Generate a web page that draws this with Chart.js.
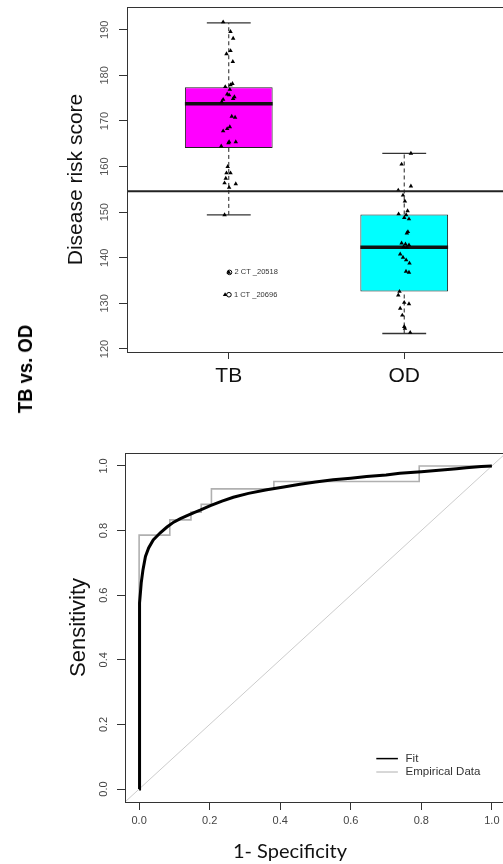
<!DOCTYPE html>
<html><head><meta charset="utf-8">
<script src="https://cdn.jsdelivr.net/npm/chart.js@4.4.1/dist/chart.umd.min.js"></script>
<style>
html,body{margin:0;padding:0;background:#fff;width:503px;height:864px;overflow:hidden;}
#wrap{position:relative;width:503px;height:864px;overflow:hidden;}
canvas{position:absolute;left:0;}
#c1{top:0;}
#c2{top:440px;}
.lbl{position:absolute;white-space:nowrap;color:#000;}
#side{font-family:"Liberation Sans",Arial,sans-serif;font-weight:bold;font-size:21px;left:24.5px;top:369px;transform:translate(-50%,-50%) rotate(-90deg) scaleX(0.88);}
#xt{font-family:Lato,"Open Sans",sans-serif;font-size:20px;left:290px;top:850px;transform:translate(-50%,-50%);color:#111;}
</style>
</head><body>
<div id="wrap">
<canvas id="c1" width="520" height="440"></canvas>
<canvas id="c2" width="520" height="424"></canvas>
<div class="lbl" id="side">TB vs. OD</div>
<div class="lbl" id="xt">1- Specificity</div>
</div>
<script>
// ---------- data: top panel (box plot) ----------
const categories = ['TB', 'OD'];
const tbScores = [191.7,189.6,188.1,185.4,184.7,183.0,178.2,177.9,177.5,176.9,175.9,175.7,175.3,174.9,174.7,174.2,171.0,170.8,168.7,168.3,167.8,165.4,165.2,165.4,164.5,160.0,158.6,158.6,157.4,156.4,156.2,155.4,149.4];
const tbJitter = [-0.032,0.010,0.025,0.010,-0.013,0.023,0.021,0.010,-0.020,0.006,-0.009,0.002,0.032,0.025,-0.032,-0.040,0.017,0.036,0.006,-0.009,-0.032,0.002,-0.002,0.040,-0.043,-0.006,-0.013,0.010,-0.017,-0.024,0.040,0.002,-0.024];
const odScores = [162.9,160.5,155.7,154.8,153.7,152.4,150.3,149.6,149.4,148.8,148.5,145.7,145.4,143.2,143.0,142.8,142.4,142.3,140.8,140.1,139.5,138.8,137.0,136.8,132.6,131.8,130.2,129.9,128.9,127.4,124.9,124.5,123.6];
const odJitter = [0.038,-0.015,0.038,-0.034,-0.007,0.004,0.019,-0.032,0.011,0.000,0.027,0.021,0.015,-0.015,0.007,0.027,-0.004,0.015,-0.023,-0.007,0.011,0.030,0.010,0.027,-0.027,-0.034,0.000,0.027,-0.023,-0.011,0.000,0.004,0.034];
const boxQ1 = [164.1, 132.6];
const boxQ3 = [177.4, 149.5];
const boxMedian = [173.8, 142.3];
const whiskerLow = [149.4, 123.4];
const whiskerHigh = [191.5, 162.9];
const cutoffScore = 154.6;
const flaggedLabels = ['2 CT _20518', '1 CT _20696'];
const flaggedScores = [136.8, 131.9];
const flaggedTriJitter = [0.000, -0.021];
const flaggedCircJitter = [0.004, 0.001];
const yTicksTop = [120, 130, 140, 150, 160, 170, 180, 190];

// ---------- data: bottom panel (ROC) ----------
const rocTicks = [0, 0.2, 0.4, 0.6, 0.8, 1.0];
const fitFPR = [0,0.0005,0.002,0.004,0.006,0.011,0.018,0.027,0.040,0.051,0.060,0.079,0.098,0.117,0.136,0.154,0.173,0.202,0.235,0.267,0.310,0.362,0.410,0.456,0.500,0.550,0.600,0.645,0.700,0.739,0.800,0.833,0.900,0.927,0.970,1.000];
const fitTPR = [0,0.46,0.576,0.612,0.638,0.679,0.720,0.746,0.771,0.783,0.793,0.811,0.826,0.837,0.846,0.855,0.863,0.877,0.891,0.903,0.915,0.926,0.935,0.943,0.950,0.957,0.962,0.967,0.972,0.977,0.982,0.985,0.991,0.994,0.998,1.000];
const empFPR = [0,0,0.087,0.087,0.147,0.147,0.176,0.176,0.205,0.205,0.382,0.382,0.794,0.794,1.0];
const empTPR = [0,0.786,0.786,0.833,0.833,0.857,0.857,0.881,0.881,0.929,0.929,0.952,0.952,1.0,1.0];
const legendLabels = ['Fit', 'Empirical Data'];

// ---------- layout / style constants ----------
const X_MIN = 0.42, X_MAX = 2.58;
const Y_MIN = 119.34, Y_MAX = 195.0;
const BOX_HALF = 0.25, CAP_HALF = 0.125;
const ROC_MIN = -0.04, ROC_MAX = 1.04;
const AX = '#333';

function seg(x1, y1, x2, y2, opts) {
  return Object.assign({
    type: 'scatter', data: [{x: x1, y: y1}, {x: x2, y: y2}], showLine: true,
    pointRadius: 0, pointHoverRadius: 0, fill: false, borderColor: '#222', borderWidth: 1
  }, opts);
}

const frame = {
  id: 'frame',
  afterDatasetsDraw(chart) {
    const {ctx, chartArea: a} = chart;
    ctx.save();
    ctx.strokeStyle = AX; ctx.lineWidth = 1;
    ctx.strokeRect(Math.round(a.left) + 0.5, Math.round(a.top) + 0.5, Math.round(a.right - a.left), Math.round(a.bottom - a.top));
    ctx.restore();
  }
};

const flagText = {
  id: 'flagText',
  afterDatasetsDraw(chart) {
    const {ctx, scales: {x, y}} = chart;
    ctx.save();
    ctx.font = '7.5px "Liberation Sans", Arial, sans-serif';
    ctx.fillStyle = '#333'; ctx.textBaseline = 'middle'; ctx.textAlign = 'left';
    flaggedLabels.forEach((t, i) => {
      ctx.fillText(t, x.getPixelForValue(1 + flaggedCircJitter[i]) + 5, y.getPixelForValue(flaggedScores[i]));
    });
    ctx.restore();
  }
};

// ---------- top chart ----------
const topDatasets = [];
topDatasets.push({
  type: 'bar',
  data: categories.map((c, i) => ({x: i + 1, y: [boxQ1[i], boxQ3[i]]})),
  backgroundColor: ['#ff00ff', '#00ffff'], borderColor: '#222', borderWidth: 1, borderSkipped: false,
  barPercentage: 0.5, categoryPercentage: 1, order: 20
});
categories.forEach((c, i) => {
  const cx = i + 1;
  topDatasets.push(seg(cx, boxQ3[i], cx, whiskerHigh[i], {borderDash: [4, 3], order: 19}));
  topDatasets.push(seg(cx, whiskerLow[i], cx, boxQ1[i], {borderDash: [4, 3], order: 19}));
  topDatasets.push(seg(cx - CAP_HALF, whiskerHigh[i], cx + CAP_HALF, whiskerHigh[i], {borderWidth: 1.3, borderColor: '#333', order: 18}));
  topDatasets.push(seg(cx - CAP_HALF, whiskerLow[i], cx + CAP_HALF, whiskerLow[i], {borderWidth: 1.3, borderColor: '#333', order: 18}));
  topDatasets.push(seg(cx - BOX_HALF, boxMedian[i], cx + BOX_HALF, boxMedian[i], {borderWidth: 3.5, borderColor: '#111', order: 17}));
});
topDatasets.push({
  type: 'scatter',
  data: tbScores.map((v, i) => ({x: 1 + tbJitter[i], y: v})).concat(odScores.map((v, i) => ({x: 2 + odJitter[i], y: v}))),
  pointStyle: 'triangle', pointRadius: 2.6, backgroundColor: '#000', borderColor: '#000', borderWidth: 0, order: 5
});
topDatasets.push({
  type: 'scatter',
  data: flaggedScores.map((v, i) => ({x: 1 + flaggedTriJitter[i], y: v})),
  pointStyle: 'triangle', pointRadius: 2.6, backgroundColor: '#000', borderColor: '#000', borderWidth: 0, order: 4
});
topDatasets.push({
  type: 'scatter',
  data: flaggedScores.map((v, i) => ({x: 1 + flaggedCircJitter[i], y: v})),
  pointStyle: 'circle', pointRadius: 2.3, backgroundColor: 'rgba(0,0,0,0)', borderColor: '#000', borderWidth: 1, order: 3
});
topDatasets.push(seg(X_MIN, cutoffScore, X_MAX, cutoffScore, {borderWidth: 2, borderColor: '#222', order: 2}));

new Chart(document.getElementById('c1'), {
  type: 'bar',
  data: {datasets: topDatasets},
  plugins: [frame, flagText],
  options: {
    responsive: false, animation: false, devicePixelRatio: 1,
    layout: {padding: {top: 7, right: 14, left: 0, bottom: 0}},
    plugins: {legend: {display: false}, tooltip: {enabled: false}},
    events: [],
    scales: {
      x: {
        type: 'linear', min: X_MIN, max: X_MAX, offset: false,
        grid: {display: true, drawOnChartArea: false, drawTicks: true, tickLength: 7, tickColor: AX, offset: false},
        border: {display: false},
        afterBuildTicks: s => { s.ticks = categories.map((c, i) => ({value: i + 1})); },
        afterFit: s => { s.height = 88; s.paddingLeft = 0; s.paddingRight = 0; },
        ticks: {
          callback: (v, i) => categories[i],
          font: {family: '"Liberation Sans", Arial, sans-serif', size: 21}, color: '#111', padding: 5,
          maxRotation: 0, minRotation: 0, autoSkip: false
        }
      },
      y: {
        type: 'linear', min: Y_MIN, max: Y_MAX, beginAtZero: false,
        grid: {display: true, drawOnChartArea: false, drawTicks: true, tickLength: 8, tickColor: AX},
        border: {display: false},
        afterBuildTicks: s => { s.ticks = yTicksTop.map(v => ({value: v})); },
        afterFit: s => { s.width = 127; s.paddingTop = 0; s.paddingBottom = 0; },
        ticks: {
          minRotation: 90, maxRotation: 90, crossAlign: 'center', padding: 5,
          font: {family: '"Liberation Sans", Arial, sans-serif', size: 11}, color: '#555', autoSkip: false
        },
        title: {
          display: true, text: 'Disease risk score', color: '#111',
          font: {family: '"Liberation Sans", Arial, sans-serif', size: 21}, padding: {top: 63.4, bottom: 0}
        }
      }
    }
  }
});

// ---------- bottom chart (ROC) ----------
const rocLegend = {
  id: 'rocLegend',
  afterDatasetsDraw(chart) {
    const {ctx, chartArea: a} = chart;
    ctx.save();
    ctx.font = '11.5px "Liberation Sans", Arial, sans-serif';
    ctx.textBaseline = 'middle'; ctx.textAlign = 'left';
    const rows = [a.bottom - 43.4, a.bottom - 30];
    legendLabels.forEach((lab, i) => {
      const ds = chart.data.datasets.find(d => d.label === lab);
      ctx.strokeStyle = ds.borderColor; ctx.lineWidth = i === 0 ? 1.5 : 1;
      ctx.beginPath(); ctx.moveTo(a.right - 129.7, rows[i]); ctx.lineTo(a.right - 108.1, rows[i]); ctx.stroke();
      ctx.fillStyle = '#333';
      ctx.fillText(lab, a.right - 100.4, rows[i]);
    });
    ctx.restore();
  }
};

new Chart(document.getElementById('c2'), {
  type: 'scatter',
  data: {
    datasets: [
      {label: 'Fit', data: fitFPR.map((x, i) => ({x, y: fitTPR[i]})), showLine: true, borderColor: '#000', borderWidth: 3, pointRadius: 0, order: 1},
      {label: 'Empirical Data', data: empFPR.map((x, i) => ({x, y: empTPR[i]})), showLine: true, borderColor: '#b0b0b0', borderWidth: 1.6, pointRadius: 0, order: 2},
      {label: 'Chance', data: [{x: ROC_MIN, y: ROC_MIN}, {x: ROC_MAX, y: ROC_MAX}], showLine: true, borderColor: '#cccccc', borderWidth: 1, pointRadius: 0, order: 3}
    ]
  },
  plugins: [frame, rocLegend],
  options: {
    responsive: false, animation: false, devicePixelRatio: 1,
    layout: {padding: {top: 13, right: 14, left: 0, bottom: 0}},
    plugins: {legend: {display: false}, tooltip: {enabled: false}},
    events: [],
    scales: {
      x: {
        type: 'linear', min: ROC_MIN, max: ROC_MAX,
        grid: {display: true, drawOnChartArea: false, drawTicks: true, tickLength: 8, tickColor: AX},
        border: {display: false},
        afterBuildTicks: s => { s.ticks = rocTicks.map(v => ({value: v})); },
        afterFit: s => { s.height = 62; s.paddingLeft = 0; s.paddingRight = 0; },
        ticks: {
          callback: v => v.toFixed(1), padding: 4.7, maxRotation: 0, minRotation: 0, autoSkip: false,
          font: {family: '"Liberation Sans", Arial, sans-serif', size: 11}, color: '#444'
        }
      },
      y: {
        type: 'linear', min: ROC_MIN, max: ROC_MAX,
        grid: {display: true, drawOnChartArea: false, drawTicks: true, tickLength: 8, tickColor: AX},
        border: {display: false},
        afterBuildTicks: s => { s.ticks = rocTicks.map(v => ({value: v})); },
        afterFit: s => { s.width = 125; s.paddingTop = 0; s.paddingBottom = 0; },
        ticks: {
          callback: v => v.toFixed(1), minRotation: 90, maxRotation: 90, crossAlign: 'center', padding: 5.4, autoSkip: false,
          font: {family: '"Liberation Sans", Arial, sans-serif', size: 11}, color: '#444'
        },
        title: {
          display: true, text: 'Sensitivity', color: '#111',
          font: {family: '"Liberation Sans", Arial, sans-serif', size: 22}, padding: {top: 66, bottom: 0}
        }
      }
    }
  }
});
</script>
</body></html>
